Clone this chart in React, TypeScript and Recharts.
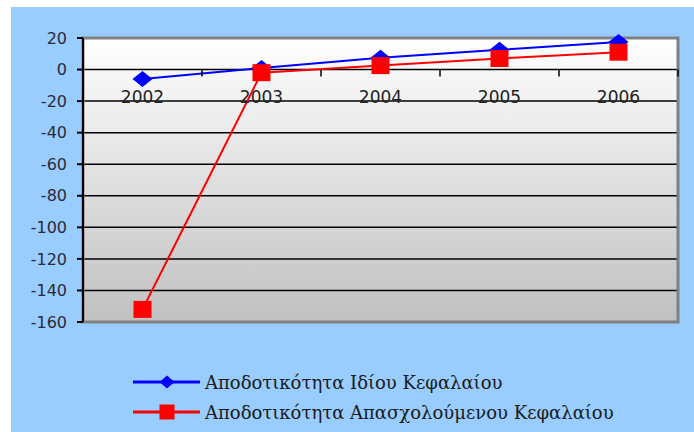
import React from "react";
import {
  LineChart,
  Line,
  XAxis,
  YAxis,
  CartesianGrid,
  ReferenceArea,
} from "recharts";

// Returns per year (%)
const years = ["2002", "2003", "2004", "2005", "2006"];
const equityReturn = [-6, 1, 7.5, 12.5, 17.5];
const employedReturn = [-152, -2, 2.5, 7, 11];
const axisBase = [0, 0, 0, 0, 0];
const yTicks = [20, 0, -20, -40, -60, -80, -100, -120, -140, -160];

const seriesNames = {
  equity: "Αποδοτικότητα Ιδίου Κεφαλαίου",
  employed: "Αποδοτικότητα Απασχολούμενου Κεφαλαίου",
};

const CHART_W = 683;
const CHART_H = 425;
const MARGIN = { top: 31, right: 16, bottom: 110, left: 0 };
const Y_AXIS_W = 72;
const PLOT_W = CHART_W - MARGIN.left - MARGIN.right - Y_AXIS_W;
const BAND = PLOT_W / years.length;

const chartData = years.map((year, i) => ({
  year,
  equity: equityReturn[i],
  employed: employedReturn[i],
  base: axisBase[i],
}));

const Diamond = ({ cx, cy, fill, w = 20, h = 16 }: any) => (
  <polygon
    points={`${cx},${cy - h / 2} ${cx + w / 2},${cy} ${cx},${cy + h / 2} ${cx - w / 2},${cy}`}
    fill={fill}
  />
);

const Square = ({ cx, cy, fill, w = 18, h = 17 }: any) => (
  <rect x={cx - w / 2} y={cy - h / 2} width={w} height={h} fill={fill} />
);

// Category labels and tick marks sitting on the zero line
const ZeroAxisMark = ({ cx, cy, payload, index }: any) => (
  <g key={`zero-${index}`}>
    <line x1={cx + BAND / 2} y1={cy} x2={cx + BAND / 2} y2={cy + 7} stroke="#000" strokeWidth={1.5} />
    <text
      x={cx}
      y={cy + 28}
      textAnchor="middle"
      dominantBaseline="middle"
      fontFamily="DejaVu Sans, Verdana, sans-serif"
      fontSize={17}
      fill="#222"
    >
      {payload.year}
    </text>
  </g>
);

const LegendBox = () => {
  const rows = [
    { name: seriesNames.equity, color: "#0000ff", marker: "diamond" },
    { name: seriesNames.employed, color: "#ff0000", marker: "square" },
  ];
  return (
    <div style={{ position: "absolute", left: 122, top: 360 }}>
      {rows.map((r) => (
        <div key={r.name} style={{ display: "flex", alignItems: "center", height: 30 }}>
          <svg width={72} height={24}>
            <line x1={0} y1={12} x2={67} y2={12} stroke={r.color} strokeWidth={3} />
            {r.marker === "diamond" ? (
              <Diamond cx={34} cy={12} fill={r.color} w={15} h={13} />
            ) : (
              <Square cx={34} cy={12} fill={r.color} w={15} h={15} />
            )}
          </svg>
          <span
            style={{
              fontFamily: "DejaVu Serif, Liberation Serif, serif",
              fontSize: 18,
              color: "#1a1a1a",
              whiteSpace: "nowrap",
            }}
          >
            {r.name}
          </span>
        </div>
      ))}
    </div>
  );
};

export default function App() {
  return (
    <div
      style={{
        position: "absolute",
        left: 11,
        top: 7,
        width: CHART_W,
        height: CHART_H,
        background: "#99ccff",
      }}
    >
      <LineChart width={CHART_W} height={CHART_H} data={chartData} margin={MARGIN}>
        <defs>
          <linearGradient id="plotFill" x1="0" y1="0" x2="0" y2="1">
            <stop offset="0%" stopColor="#ffffff" />
            <stop offset="100%" stopColor="#c0c0c0" />
          </linearGradient>
        </defs>
        <CartesianGrid
          vertical={false}
          stroke="#000"
          strokeWidth={1.5}
          fill="url(#plotFill)"
          fillOpacity={1}
        />
        <ReferenceArea
          y1={-160}
          y2={20}
          fill="none"
          stroke="#808080"
          strokeWidth={3}
          ifOverflow="visible"
        />
        <XAxis dataKey="year" scale="band" hide />
        <YAxis
          width={Y_AXIS_W}
          domain={[-160, 20]}
          ticks={yTicks}
          interval={0}
          axisLine={{ stroke: "#000", strokeWidth: 2 }}
          tickLine={{ stroke: "#000", strokeWidth: 2 }}
          tickSize={6}
          tickMargin={10}
          tick={{ fill: "#2a2a3a", fontSize: 16, fontFamily: "DejaVu Sans, Verdana, sans-serif" }}
        />
        <Line
          dataKey="base"
          stroke="none"
          legendType="none"
          dot={<ZeroAxisMark />}
          activeDot={false}
          isAnimationActive={false}
        />
        <Line
          dataKey="equity"
          name={seriesNames.equity}
          stroke="#0000ff"
          strokeWidth={2}
          dot={<Diamond fill="#0000ff" />}
          activeDot={false}
          isAnimationActive={false}
        />
        <Line
          dataKey="employed"
          name={seriesNames.employed}
          stroke="#ff0000"
          strokeWidth={2}
          dot={<Square fill="#ff0000" />}
          activeDot={false}
          isAnimationActive={false}
        />
      </LineChart>
      <LegendBox />
    </div>
  );
}
